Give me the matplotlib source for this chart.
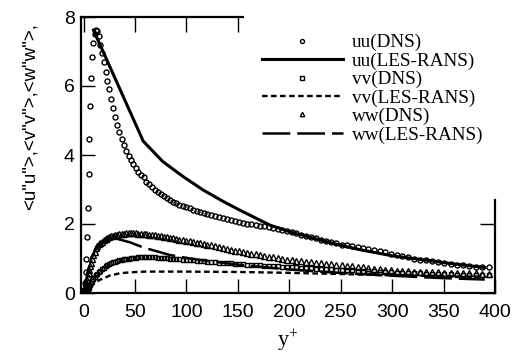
import numpy as np
import matplotlib
matplotlib.use("Agg")
import matplotlib.pyplot as plt

plt.rcParams['font.family'] = ['Liberation Sans', 'DejaVu Sans']
plt.rcParams['lines.scale_dashes'] = False

# DNS grid (y+) and the three normal stresses
y_dns = [0.3, 0.8, 1.4, 2.0, 2.6, 3.3, 4.0, 4.8, 5.6, 6.5, 7.4, 8.4, 9.5, 10.7, 12.0,
         13.4, 14.9, 16.4, 18.0, 19.7, 21.4, 23.2, 25.0, 26.9, 28.8, 30.8, 32.8, 34.9,
         37.0, 39.2, 41.4, 43.7, 46.0, 48.4, 50.8, 53.3, 55.8, 58.4, 61.0, 63.7, 66.4,
         69.2, 72.0, 74.9, 77.8, 80.8, 83.8, 86.9, 90.0, 93.2, 96.4, 99.7, 103.0, 106.4,
         109.8, 113.3, 116.8, 120.4, 124.0, 127.7, 131.4, 135.2, 139.0, 142.9, 146.8,
         150.8, 154.8, 158.9, 163.0, 167.2, 171.4, 175.7, 180.0, 184.4, 188.8, 193.3,
         197.8, 202.4, 207.0, 211.7, 216.4, 221.2, 226.0, 230.9, 235.8, 240.8, 245.8,
         250.9, 256.0, 261.2, 266.4, 271.7, 277.0, 282.4, 287.8, 293.3, 298.8, 304.4,
         310.0, 315.7, 321.4, 327.2, 333.0, 338.9, 344.8, 350.8, 356.8, 362.9, 369.0,
         375.2, 381.4, 387.6, 393.8]

uu_dns = [0.01, 0.08, 0.30, 0.60, 0.99, 1.61, 2.45, 3.44, 4.46, 5.43, 6.24, 6.83, 7.24,
          7.50, 7.62, 7.60, 7.45, 7.20, 6.95, 6.70, 6.42, 6.15, 5.90, 5.62, 5.35, 5.10,
          4.88, 4.66, 4.46, 4.28, 4.12, 3.98, 3.86, 3.74, 3.62, 3.52, 3.43, 3.35, 3.23,
          3.15, 3.08, 3.00, 2.94, 2.87, 2.80, 2.75, 2.70, 2.65, 2.60, 2.55, 2.51, 2.48,
          2.45, 2.41, 2.38, 2.35, 2.31, 2.28, 2.25, 2.22, 2.19, 2.17, 2.14, 2.12, 2.09,
          2.07, 2.03, 2.01, 1.99, 1.97, 1.95, 1.93, 1.91, 1.88, 1.86, 1.83, 1.80, 1.76,
          1.73, 1.69, 1.66, 1.62, 1.59, 1.55, 1.52, 1.48, 1.44, 1.40, 1.38, 1.35, 1.32,
          1.30, 1.27, 1.25, 1.22, 1.18, 1.14, 1.10, 1.07, 1.03, 1.00, 0.97, 0.95, 0.92,
          0.90, 0.87, 0.84, 0.82, 0.80, 0.78, 0.76, 0.75, 0.74]

vv_dns = [0.00, 0.01, 0.02, 0.03, 0.05, 0.08, 0.11, 0.15, 0.19, 0.24, 0.29, 0.34, 0.40,
          0.45, 0.51, 0.56, 0.61, 0.65, 0.69, 0.73, 0.77, 0.80, 0.83, 0.86, 0.89, 0.91,
          0.93, 0.95, 0.97, 0.98, 0.99, 1.00, 1.01, 1.02, 1.02, 1.03, 1.03, 1.03, 1.03,
          1.03, 1.03, 1.03, 1.02, 1.02, 1.02, 1.01, 1.00, 1.00, 0.99, 0.98, 0.97, 0.97,
          0.96, 0.95, 0.94, 0.93, 0.92, 0.91, 0.90, 0.89, 0.88, 0.87, 0.86, 0.86, 0.85,
          0.84, 0.83, 0.82, 0.82, 0.81, 0.80, 0.79, 0.79, 0.78, 0.77, 0.76, 0.76, 0.75,
          0.74, 0.73, 0.73, 0.72, 0.71, 0.71, 0.70, 0.69, 0.68, 0.68, 0.67, 0.66, 0.65,
          0.64, 0.63, 0.63, 0.62, 0.61, 0.60, 0.59, 0.59, 0.58, 0.57, 0.57, 0.56, 0.55,
          0.55, 0.54, 0.54, 0.53, 0.53, 0.53, 0.52, 0.52, 0.52]

ww_dns = [0.02, 0.06, 0.12, 0.20, 0.28, 0.38, 0.47, 0.57, 0.67, 0.78, 0.88, 0.99, 1.09,
          1.20, 1.29, 1.35, 1.41, 1.45, 1.49, 1.53, 1.56, 1.59, 1.62, 1.64, 1.66, 1.68,
          1.69, 1.70, 1.71, 1.72, 1.73, 1.73, 1.73, 1.73, 1.73, 1.72, 1.72, 1.71, 1.70,
          1.69, 1.68, 1.67, 1.65, 1.64, 1.63, 1.61, 1.60, 1.58, 1.56, 1.55, 1.53, 1.51,
          1.50, 1.48, 1.46, 1.44, 1.42, 1.40, 1.38, 1.35, 1.33, 1.31, 1.28, 1.26, 1.23,
          1.21, 1.18, 1.16, 1.14, 1.12, 1.10, 1.08, 1.05, 1.03, 1.01, 0.99, 0.97, 0.96,
          0.94, 0.92, 0.91, 0.89, 0.87, 0.86, 0.84, 0.83, 0.81, 0.80, 0.78, 0.77, 0.75,
          0.74, 0.72, 0.71, 0.69, 0.68, 0.66, 0.65, 0.64, 0.63, 0.62, 0.62, 0.61, 0.60,
          0.60, 0.59, 0.59, 0.58, 0.58, 0.57, 0.57, 0.56, 0.56]

# LES-RANS curves
y_uu_les = [9.6, 58, 77, 97, 116, 136, 152, 181, 203, 245, 268, 300, 333, 360, 390]
uu_les = [7.62, 4.40, 3.81, 3.37, 2.99, 2.65, 2.40, 1.97, 1.75, 1.42, 1.26, 1.08, 0.95, 0.84, 0.74]

y_vv_les = [0, 3, 8, 15, 25, 35, 45, 60, 100, 150, 190, 250, 300, 350, 390]
vv_les = [0, 0.08, 0.22, 0.37, 0.50, 0.57, 0.60, 0.62, 0.62, 0.61, 0.59, 0.55, 0.51, 0.49, 0.47]

y_ww_les = [0, 4, 8, 14, 22, 30, 45, 58, 84, 110, 150, 200, 250, 300, 350, 390]
ww_les = [0, 0.60, 1.05, 1.38, 1.55, 1.59, 1.47, 1.32, 1.10, 0.97, 0.82, 0.68, 0.58, 0.50, 0.43, 0.39]

fig = plt.figure(figsize=(5.21, 3.54), dpi=100)
ax = fig.add_axes([80.5/521, 61/354, 414.5/521, 276/354])

mk = dict(color='black', mfc='none', mew=1.0, linestyle='none')
ax.plot(y_dns, uu_dns, marker='o', ms=3.6, label='uu(DNS)', **mk)
ax.plot(y_uu_les, uu_les, color='black', lw=2.2, label='uu(LES-RANS)')
ax.plot(y_dns, vv_dns, marker='s', ms=3.4, label='vv(DNS)', **mk)
ax.plot(y_vv_les, vv_les, color='black', lw=1.7, dashes=(4, 2.5), label='vv(LES-RANS)')
ax.plot(y_dns, ww_dns, marker='^', ms=4.0, label='ww(DNS)', **mk)
ax.plot(y_ww_les, ww_les, color='black', lw=1.8, dashes=(20, 5), label='ww(LES-RANS)')

ax.set_xlim(-3, 400)
ax.set_ylim(0, 8)
ax.set_xticks(np.arange(0, 401, 50))
ax.set_yticks([0, 2, 4, 6, 8])
ax.tick_params(direction='in', length=10, width=1, top=False, right=False, labelsize=14)
ax.tick_params(axis='x', pad=8)
ax.tick_params(axis='y', pad=4)

# partial top / right frame with its own few ticks
ax.xaxis.remove_overlapping_locs = False
ax.yaxis.remove_overlapping_locs = False
ax.set_xticks([0, 50, 100, 150], minor=True)
ax.set_yticks([0, 2], minor=True)
ax.tick_params(axis='x', which='minor', bottom=False, top=True, direction='in', length=11, width=1)
ax.tick_params(axis='y', which='minor', left=False, right=True, direction='in', length=11, width=1)
for s in ax.spines.values():
    s.set_linewidth(1.6)
ax.spines['top'].set_bounds(-3, 155)
ax.spines['right'].set_bounds(0, 2.7)

ax.set_xlabel(r'$\mathregular{y^{+}}$', fontsize=16, family='Liberation Serif', labelpad=5)
ax.set_ylabel('<u"u">,<v"v">,<w"w">,', fontsize=13.5)
ax.yaxis.set_label_coords(-0.1, 0.64)

ax.legend(loc='upper left', bbox_to_anchor=(262/521, 1 - 34/354), bbox_transform=fig.transFigure,
          frameon=False, prop={'family': 'Liberation Serif', 'size': 13.8},
          handlelength=4.2, handletextpad=0.48, labelspacing=0.05, borderpad=0,
          borderaxespad=0, markerscale=0.8)

fig.savefig('out.png', dpi=100)
